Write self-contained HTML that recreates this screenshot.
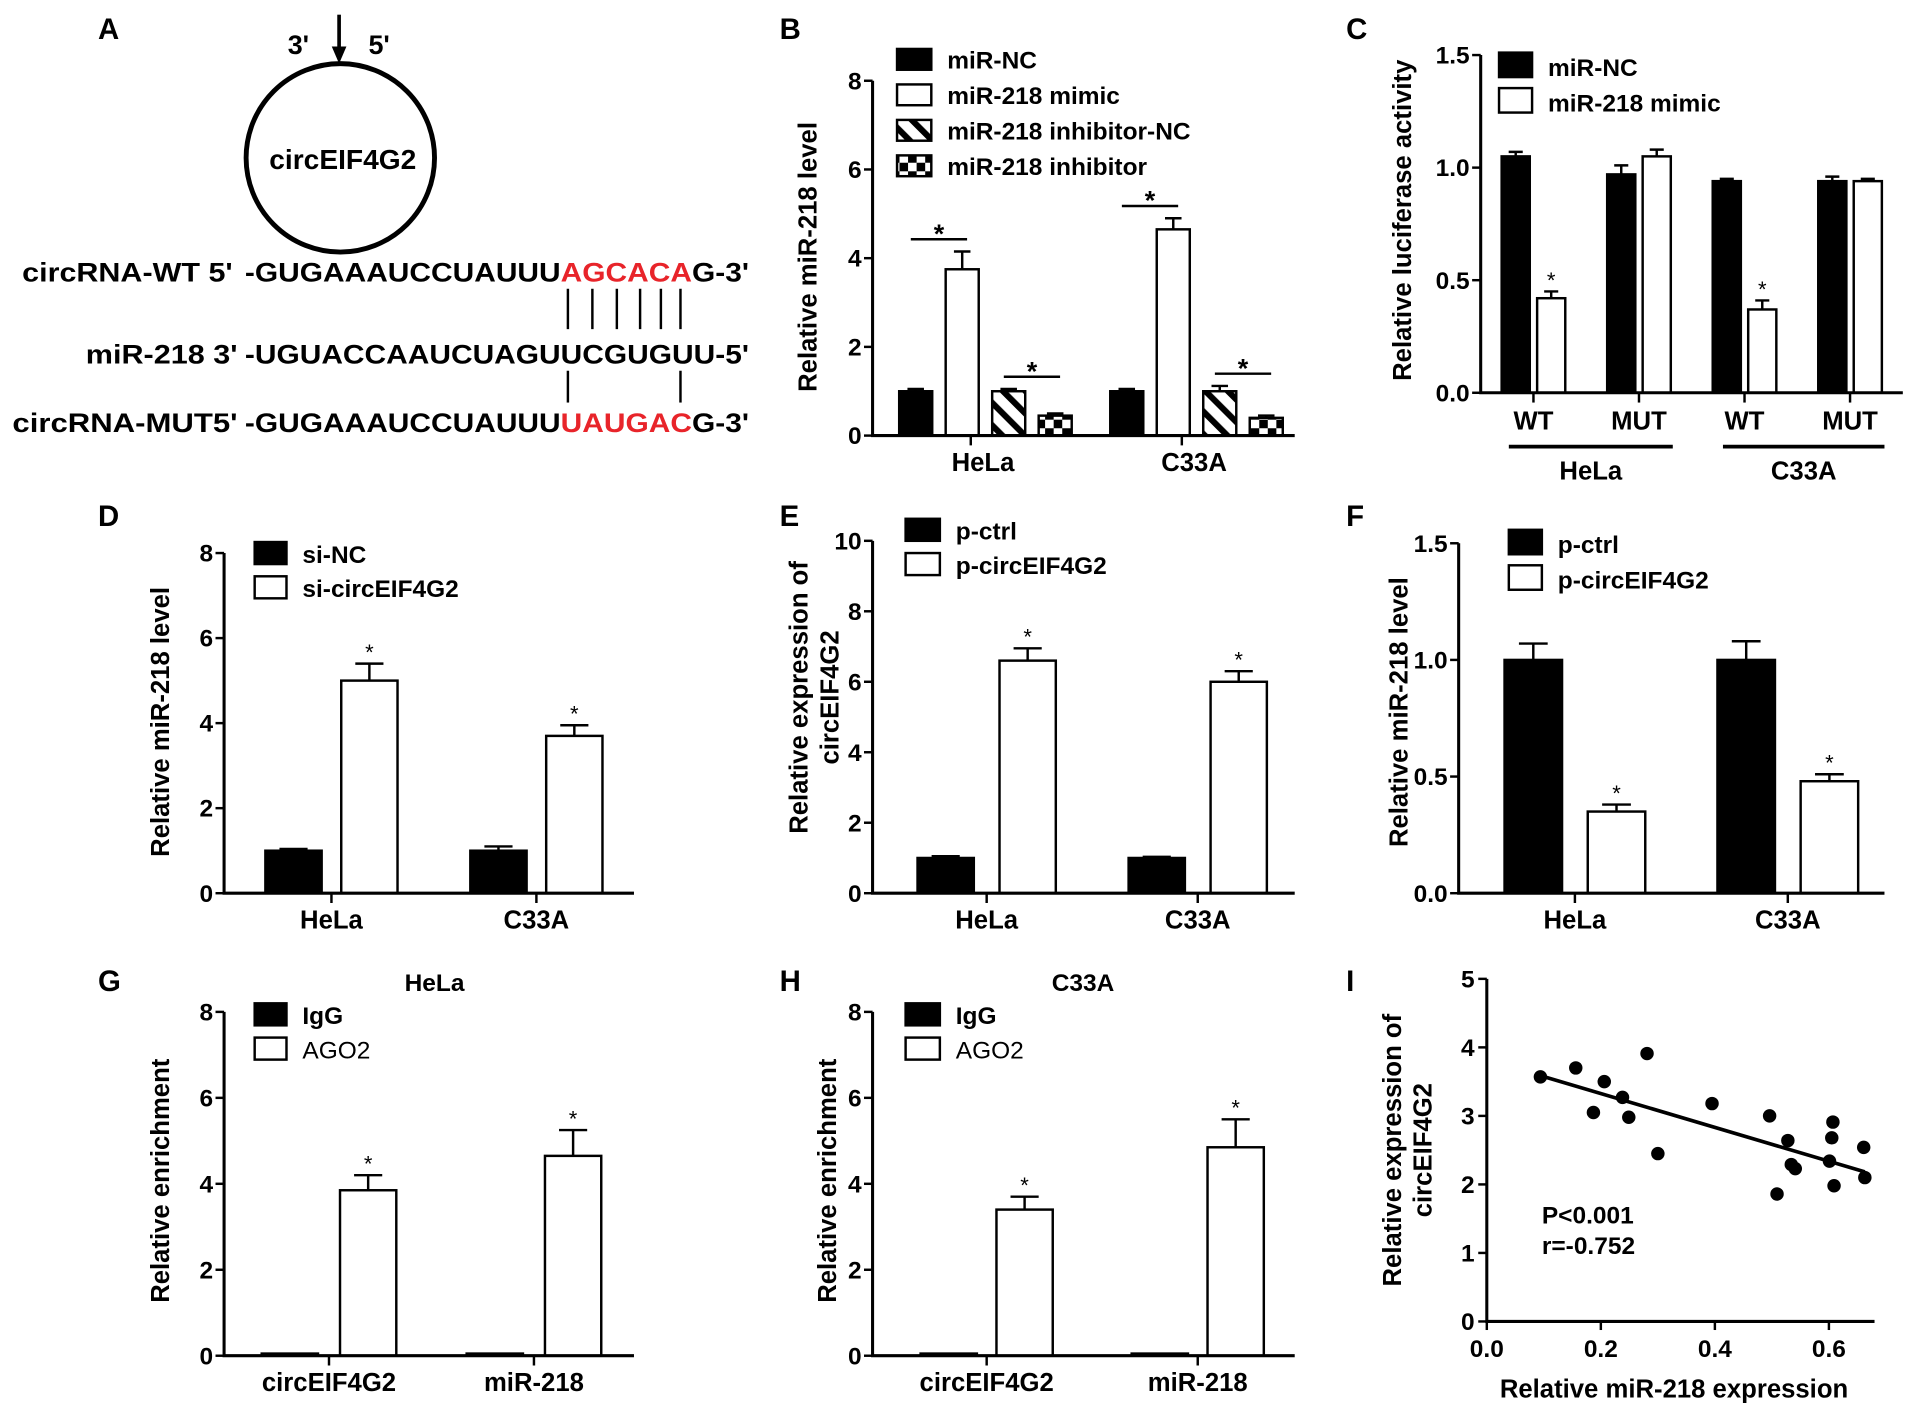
<!DOCTYPE html>
<html><head><meta charset="utf-8"><style>
html,body{margin:0;padding:0;background:#fff;}
svg{display:block;font-family:"Liberation Sans",Arial,sans-serif;font-weight:bold;}
</style></head><body>
<svg id="fig" xmlns="http://www.w3.org/2000/svg" width="1914" height="1412" viewBox="0 0 1564 1154">
<defs>
<pattern id="hatch" patternUnits="userSpaceOnUse" width="13" height="13" patternTransform="rotate(-45)">
<rect width="13" height="13" fill="#fff"/><rect x="0" y="0" width="5" height="13" fill="#000"/>
</pattern>
<pattern id="checker" patternUnits="userSpaceOnUse" width="14" height="14">
<rect width="14" height="14" fill="#fff"/><rect x="0" y="0" width="7" height="7" fill="#000"/><rect x="7" y="7" width="7" height="7" fill="#000"/>
</pattern>
</defs>
<g font-size="22">
<text x="80" y="32" font-size="24">A</text>
<text x="235" y="44">3'</text>
<text x="301" y="44">5'</text>
<line x1="277" y1="12" x2="277" y2="44" stroke="#000" stroke-width="3"/>
<polygon points="271,38 283,38 277,52" fill="#000"/>
<circle cx="278" cy="129" r="77" fill="none" stroke="#000" stroke-width="4"/>
<text x="280" y="138" text-anchor="middle" font-size="23">circEIF4G2</text>
<text x="190" y="230" text-anchor="end" textLength="172" lengthAdjust="spacingAndGlyphs">circRNA-WT 5'</text>
<text x="200" y="230" textLength="412" lengthAdjust="spacingAndGlyphs">-GUGAAAUCCUAUUU<tspan fill="#e8242a">AGCACA</tspan>G-3'</text>
<text x="194" y="297" text-anchor="end" textLength="124" lengthAdjust="spacingAndGlyphs">miR-218 3'</text>
<text x="200" y="297" textLength="412" lengthAdjust="spacingAndGlyphs">-UGUACCAAUCUAGUUCGUGUU-5'</text>
<text x="194" y="353" text-anchor="end" textLength="184" lengthAdjust="spacingAndGlyphs">circRNA-MUT5'</text>
<text x="200" y="353" textLength="412" lengthAdjust="spacingAndGlyphs">-GUGAAAUCCUAUUU<tspan fill="#e8242a">UAUGAC</tspan>G-3'</text>
<g stroke="#000" stroke-width="2">
<line x1="464" y1="236" x2="464" y2="269"/><line x1="484" y1="236" x2="484" y2="269"/><line x1="504" y1="236" x2="504" y2="269"/><line x1="523" y1="236" x2="523" y2="269"/><line x1="540" y1="236" x2="540" y2="269"/><line x1="556" y1="236" x2="556" y2="269"/>
<line x1="464" y1="303" x2="464" y2="329"/><line x1="556" y1="303" x2="556" y2="329"/>
</g>
</g>
</svg>
<script>
// ---------- data ----------
const bCats=['HeLa','C33A'];
const bNames=['miR-NC','miR-218 mimic','miR-218 inhibitor-NC','miR-218 inhibitor'];
const bNC=[1.0,1.0], bMimic=[3.75,4.65], bInhNC=[1.0,1.0], bInh=[0.45,0.4];
const bNCe=[1.05,1.05], bMimicE=[4.15,4.9], bInhNCe=[1.05,1.12], bInhE=[0.5,0.45];
const bTicks=[0,2,4,6,8];
const cCats=['WT','MUT','WT','MUT'];
const cNames=['miR-NC','miR-218 mimic'];
const cNC=[1.05,0.97,0.94,0.94], cMimic=[0.42,1.05,0.37,0.94];
const cNCe=[1.07,1.01,0.95,0.96], cMimicE=[0.45,1.08,0.41,0.95];
const cTicks=[0,0.5,1.0,1.5];
const dCats=['HeLa','C33A'];
const dNames=['si-NC','si-circEIF4G2'];
const dNC=[1.0,1.0], dSi=[5.0,3.7], dNCe=[1.04,1.1], dSiE=[5.4,3.95];
const dTicks=[0,2,4,6,8];
const eCats=['HeLa','C33A'];
const eNames=['p-ctrl','p-circEIF4G2'];
const eCtrl=[1.0,1.0], eP=[6.6,6.0], eCtrlE=[1.05,1.03], ePE=[6.95,6.3];
const eTicks=[0,2,4,6,8,10];
const fCats=['HeLa','C33A'];
const fCtrl=[1.0,1.0], fP=[0.35,0.48], fCtrlE=[1.07,1.08], fPE=[0.38,0.51];
const fTicks=[0,0.5,1.0,1.5];
const gCats=['circEIF4G2','miR-218'];
const gNames=['IgG','AGO2'];
const gIgG=[0.05,0.05], gAGO=[3.85,4.65], gIgGE=[0.05,0.05], gAGOE=[4.2,5.25];
const hIgG=[0.05,0.05], hAGO=[3.4,4.85], hIgGE=[0.05,0.05], hAGOE=[3.7,5.5];
const gTicks=[0,2,4,6,8];
const iX=[0.094,0.156,0.187,0.206,0.238,0.249,0.281,0.30,0.395,0.496,0.509,0.528,0.534,0.541,0.601,0.605,0.607,0.609,0.661,0.663];
const iY=[3.57,3.7,3.05,3.5,3.27,2.98,3.91,2.45,3.18,3.0,1.86,2.64,2.29,2.23,2.34,2.68,2.91,1.98,2.54,2.1];
const iXTicks=[0,0.2,0.4,0.6];
const iYTicks=[0,1,2,3,4,5];
const iFit=[3.82,-2.47];

// ---------- helpers ----------
const NS='http://www.w3.org/2000/svg';
const svg=document.getElementById('fig');
function mk(tag,attrs,parent){const e=document.createElementNS(NS,tag);for(const k in attrs)e.setAttribute(k,attrs[k]);(parent||svg).appendChild(e);return e;}
function txt(s,attrs,parent){const e=mk('text',attrs,parent);e.textContent=s;return e;}
function fmt(v,dec){return dec?v.toFixed(1):String(v);}

function panel(cfg){
  const g=mk('g',{});
  
  
  const ys=v=>cfg.yb-(v/cfg.vmax)*(cfg.yb-cfg.yt);
  const n=cfg.cats.length;
  const xs=i=>cfg.x0+(i+0.5)*(cfg.x1-cfg.x0)/n+(cfg.shift||0);
  let e=txt(cfg.letter,{x:cfg.lx,y:cfg.ly,'font-size':24},g);
  
  
  cfg.series.forEach((s,j)=>{
    s.vals.forEach((v,i)=>{
      const cx=xs(i)+(j-(cfg.series.length-1)/2)*cfg.pitch;
      const top=ys(v);
      const r=mk('rect',{x:cx-cfg.bw/2,y:top,width:cfg.bw,height:cfg.yb-top,fill:s.fill,stroke:'#000','stroke-width':2},g);
      
      
      const et=ys(s.err[i]);
      if(s.err[i]>v){
        const l=mk('path',{d:`M${cx} ${top}V${et}M${cx-cfg.bw/4} ${et}H${cx+cfg.bw/4}`,stroke:'#000','stroke-width':2,fill:'none'},g);
        
        
      }
      if(s.star&&s.star[i]){
        const st=txt('*',{x:cx,y:et-3,'text-anchor':'middle','font-size':18,'font-weight':'normal'},g);
        
        
      }
    });
  });
  const ax=mk('path',{d:`M${cfg.x0} ${cfg.yt}V${cfg.yb}H${cfg.x1}`,stroke:'#000','stroke-width':2.5,fill:'none'},g);
  
  
  cfg.ticks.forEach(t=>{
    const y=ys(t);
    mk('line',{x1:cfg.x0-7,x2:cfg.x0,y1:y,y2:y,stroke:'#000','stroke-width':2},g);
    const tl=txt(fmt(t,cfg.dec),{x:cfg.x0-9,y:y+7,'text-anchor':'end','font-size':20},g);
    
    
  });
  cfg.cats.forEach((c,i)=>{
    const x=xs(i)+(cfg.tickShift||0);
    mk('line',{x1:x,x2:x,y1:cfg.yb,y2:cfg.yb+8,stroke:'#000','stroke-width':2},g);
    const cl=txt(c,{x:x+(cfg.labShift||0),y:cfg.yb+(cfg.labDy||29),'text-anchor':'middle','font-size':cfg.catFs||21},g);
    
    
  });
  const tg=mk('text',{transform:`translate(${cfg.tx},${cfg.tcy}) rotate(-90)`,'text-anchor':'middle','font-size':21},g);
  
  
  cfg.title.forEach((line,k)=>{const ts=mk('tspan',{x:0,y:k*25},tg);ts.textContent=line;});
  cfg.series.forEach((s,j)=>{
    const ly=cfg.legY+j*cfg.legDy;
    const sq=mk('rect',{x:cfg.legX,y:ly,width:cfg.legW||26,height:cfg.legH||18,fill:s.fill,stroke:'#000','stroke-width':2},g);
    
    
    const lt=txt(s.name,{x:cfg.legX+(cfg.legW||26)+13,y:ly+(cfg.legH||18)-1,'font-size':20,'font-weight':s.normal?'normal':'bold'},g);
    
    
  });
  return {g,ys,xs};
}

const pB=panel({name:'panel-b',letter:'B',lx:637,ly:32,x0:713,x1:1058,yb:356,yt:66,vmax:8,cats:bCats,ticks:bTicks,bw:27,pitch:38,shift:6,tickShift:-12,labShift:10,
  series:[{name:bNames[0],vals:bNC,err:bNCe,fill:'#000'},{name:bNames[1],vals:bMimic,err:bMimicE,fill:'#fff'},{name:bNames[2],vals:bInhNC,err:bInhNCe,fill:'url(#hatch)'},{name:bNames[3],vals:bInh,err:bInhE,fill:'url(#checker)'}],
  tx:667,tcy:210,title:['Relative miR-218 level'],legX:733,legY:40,legDy:29,legW:28,legH:17});
[[0,1,0],[2,3,0],[0,1,1],[2,3,1]].forEach(([a,b,i])=>{
  const arrs=[bNCe,bMimicE,bInhNCe,bInhE];
  const y=pB.ys(Math.max(arrs[a][i],arrs[b][i]))-10;
  const xa=pB.xs(i)+(a-1.5)*38, xb=pB.xs(i)+(b-1.5)*38;
  const l=mk('line',{x1:xa-4,x2:xb+4,y1:y,y2:y,stroke:'#000','stroke-width':2},pB.g);
  
  
  const s=txt('*',{x:(xa+xb)/2,y:y+3,'text-anchor':'middle','font-size':22},pB.g);
  
  
});
const pC=panel({name:'panel-c',letter:'C',lx:1100,ly:32,x0:1210,x1:1555,yb:321,yt:45,vmax:1.5,dec:1,cats:cCats,ticks:cTicks,bw:23,pitch:29,labDy:30,
  series:[{name:cNames[0],vals:cNC,err:cNCe,fill:'#000'},{name:cNames[1],vals:cMimic,err:cMimicE,fill:'#fff',star:[1,0,1,0]}],
  tx:1153,tcy:180,title:['Relative luciferase activity'],legX:1225,legY:43,legDy:29,legW:27,legH:20});
[['HeLa',1233,1367],['C33A',1408,1540]].forEach(([n,a,b])=>{
  const l=mk('line',{x1:a,x2:b,y1:365,y2:365,stroke:'#000','stroke-width':3},pC.g);
  
  
  const t=txt(n,{x:(a+b)/2,y:392,'text-anchor':'middle','font-size':21},pC.g);
  
  
});
panel({name:'panel-d',letter:'D',lx:80,ly:430,x0:183,x1:518,yb:730,yt:452,vmax:8,cats:dCats,ticks:dTicks,bw:46,pitch:62,shift:4,
  series:[{name:dNames[0],vals:dNC,err:dNCe,fill:'#000'},{name:dNames[1],vals:dSi,err:dSiE,fill:'#fff',star:[1,1]}],
  tx:138,tcy:590,title:['Relative miR-218 level'],legX:208,legY:443,legDy:28});
panel({name:'panel-e',letter:'E',lx:637,ly:430,x0:713,x1:1058,yb:730,yt:442,vmax:10,cats:eCats,ticks:eTicks,bw:46,pitch:67,shift:7,
  series:[{name:eNames[0],vals:eCtrl,err:eCtrlE,fill:'#000'},{name:eNames[1],vals:eP,err:ePE,fill:'#fff',star:[1,1]}],
  tx:660,tcy:570,title:['Relative expression of','circEIF4G2'],legX:740,legY:424,legDy:28,legW:28});
panel({name:'panel-f',letter:'F',lx:1100,ly:430,x0:1192,x1:1540,yb:730,yt:444,vmax:1.5,dec:1,cats:fCats,ticks:fTicks,bw:47,pitch:68,shift:8,
  series:[{name:eNames[0],vals:fCtrl,err:fCtrlE,fill:'#000'},{name:eNames[1],vals:fP,err:fPE,fill:'#fff',star:[1,1]}],
  tx:1150,tcy:582,title:['Relative miR-218 level'],legX:1233,legY:433,legDy:29,legW:27,legH:20});
const pG=panel({name:'panel-g',letter:'G',lx:80,ly:810,x0:183,x1:518,yb:1108,yt:827,vmax:8,cats:gCats,ticks:gTicks,bw:46,pitch:64,shift:2,
  series:[{name:gNames[0],vals:gIgG,err:gIgGE,fill:'#000'},{name:gNames[1],vals:gAGO,err:gAGOE,fill:'#fff',star:[1,1],normal:true}],
  tx:138,tcy:965,title:['Relative enrichment'],legX:208,legY:820,legDy:28});
let tG=txt('HeLa',{x:355,y:810,'text-anchor':'middle','font-size':20},pG.g);


const pH=panel({name:'panel-h',letter:'H',lx:637,ly:810,x0:713,x1:1058,yb:1108,yt:827,vmax:8,cats:gCats,ticks:gTicks,bw:46,pitch:62,shift:7,
  series:[{name:gNames[0],vals:hIgG,err:hIgGE,fill:'#000'},{name:gNames[1],vals:hAGO,err:hAGOE,fill:'#fff',star:[1,1],normal:true}],
  tx:683,tcy:965,title:['Relative enrichment'],legX:740,legY:820,legDy:28,legW:28});
let tH=txt('C33A',{x:885,y:810,'text-anchor':'middle','font-size':20},pH.g);



(function(){
  const g=mk('g',{});
  
  
  const X0=1215,Y0=1080,xu=466,yu=56;
  const sx=v=>X0+v*xu, sy=v=>Y0-v*yu;
  let e=txt('I',{x:1100,y:810,'font-size':24},g);
  
  
  const ax=mk('path',{d:`M${X0} ${sy(5)}V${Y0}H${sx(0.68)}`,stroke:'#000','stroke-width':2.5,fill:'none'},g);
  
  
  iYTicks.forEach(t=>{
    mk('line',{x1:X0-7,x2:X0,y1:sy(t),y2:sy(t),stroke:'#000','stroke-width':2},g);
    const l=txt(String(t),{x:X0-10,y:sy(t)+7,'text-anchor':'end','font-size':20},g);
    
    
  });
  iXTicks.forEach(t=>{
    mk('line',{x1:sx(t),x2:sx(t),y1:Y0,y2:Y0+7,stroke:'#000','stroke-width':2},g);
    const l=txt(t.toFixed(1),{x:sx(t),y:Y0+29,'text-anchor':'middle','font-size':20},g);
    
    
  });
  const xmin=Math.min(...iX),xmax=Math.max(...iX);
  const fl=mk('line',{x1:sx(xmin),y1:sy(iFit[0]+iFit[1]*xmin),x2:sx(xmax),y2:sy(iFit[0]+iFit[1]*xmax),stroke:'#000','stroke-width':3},g);
  
  
  iX.forEach((x,k)=>{
    const c=mk('circle',{cx:sx(x),cy:sy(iY[k]),r:5.5,fill:'#000'},g);
    
    
  });
  let t=txt('P<0.001',{x:1260,y:1000,'font-size':20},g);
  
  
  t=txt('r=-0.752',{x:1260,y:1025,'font-size':20},g);
  
  
  t=txt('Relative miR-218 expression',{x:1368,y:1142,'text-anchor':'middle','font-size':21},g);
  
  
  const tg=mk('text',{transform:'translate(1145,940) rotate(-90)','text-anchor':'middle','font-size':21},g);
  
  
  ['Relative expression of','circEIF4G2'].forEach((s,k)=>{const ts=mk('tspan',{x:0,y:k*25},tg);ts.textContent=s;});
})();
</script>
</body></html>
